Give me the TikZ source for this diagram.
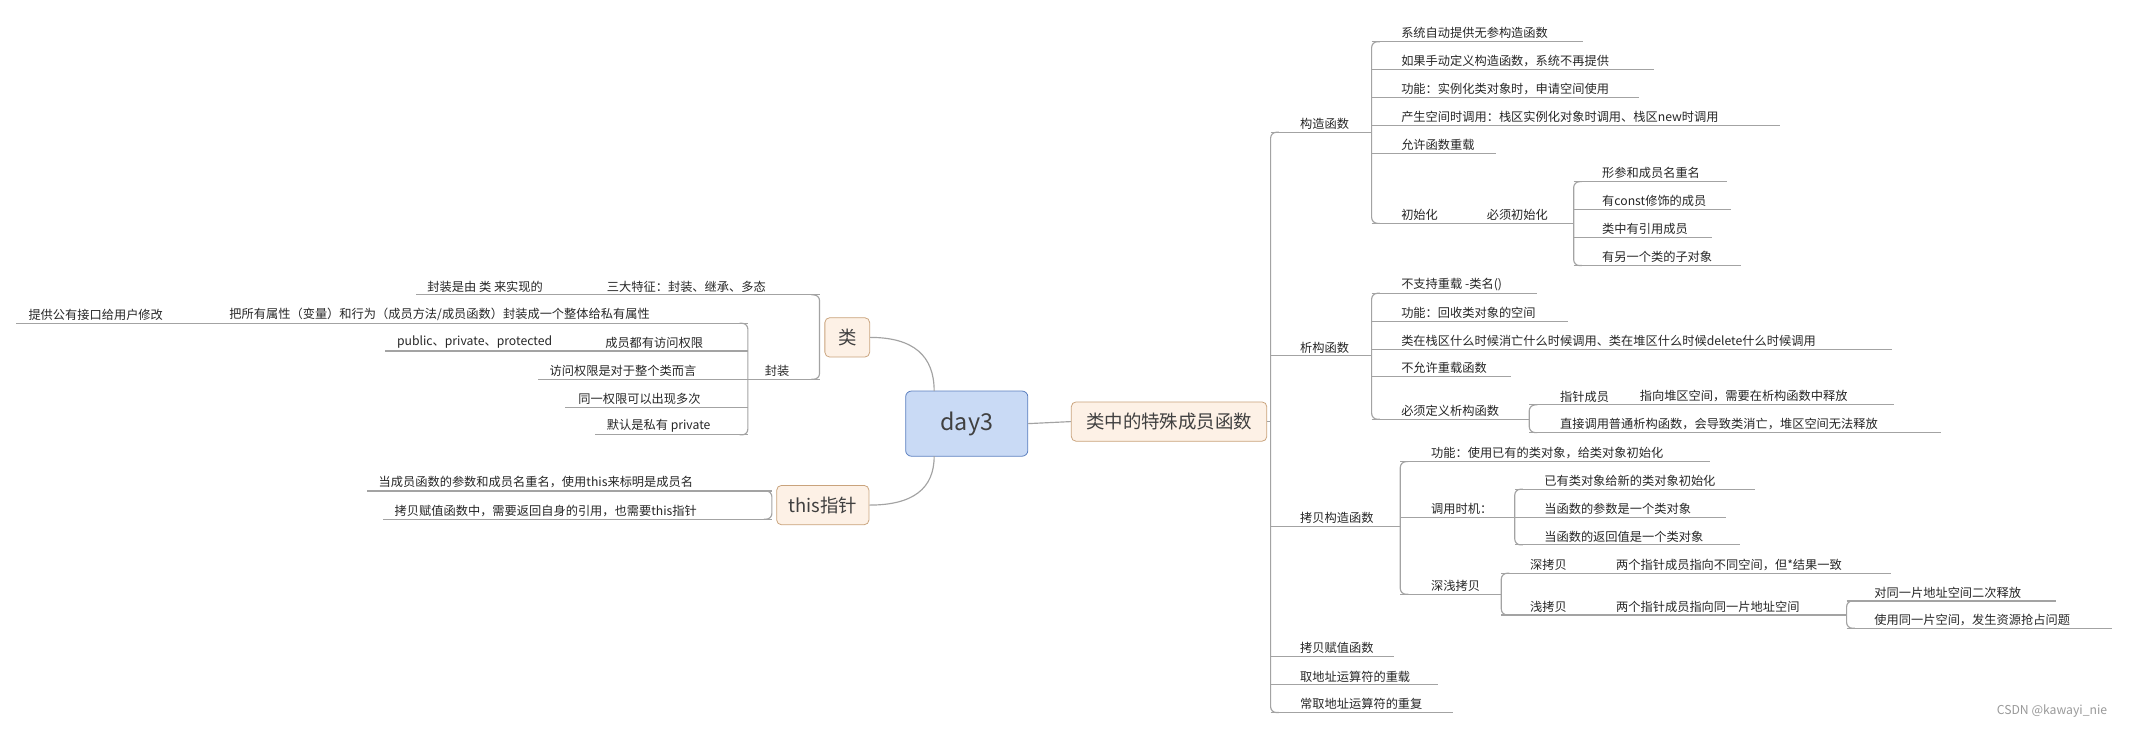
\documentclass[tikz,border=0pt]{standalone}
\usepackage{fontspec}
\setmainfont{Noto Sans CJK SC}
\usetikzlibrary{positioning}
\definecolor{linegray}{HTML}{A3A3A3}
\definecolor{hubfill}{HTML}{C9DAF5}
\definecolor{hubline}{HTML}{5B7FBF}
\definecolor{topfill}{HTML}{FDF1E6}
\definecolor{topline}{HTML}{C9A37C}
\tikzset{
  link/.style={draw=linegray,line width=0.6pt},
  leaf/.style={font=\fontsize{6.3}{7}\selectfont,text=black!85,inner sep=1.2pt,anchor=south west},
  hub/.style={draw=hubline,fill=hubfill,rounded corners=3pt,minimum width=63pt,minimum height=33.6pt,font=\fontsize{12}{14}\selectfont,text=black!75},
  topic/.style={draw=topline,fill=topfill,rounded corners=2.5pt,minimum height=20.3pt,inner xsep=3pt,font=\fontsize{9.5}{11}\selectfont,text=black!75},
}
% #1 name, #2 spine x, #3 line y, #4 text x, #5 line end x, #6 text
\newcommand\twig[6]{%
  \node[leaf] (#1) at (#4,#3) {#6};
  \draw[link] (#2,#3) -- (#5,#3);}
% #1 x, #2 top y, #3 bottom y, #4 side
\newcommand\spine[4]{\draw[link,rounded corners=3pt] (#1+#4,#2) -- (#1,#2) -- (#1,#3) -- (#1+#4,#3);}
\begin{document}
\begin{tikzpicture}[x=0.7pt,y=-0.7pt]
  \useasboundingbox (0,0) rectangle (1568,537);
  % centre
  \node[hub] (day3) at (712,312) {day3};
  \node[topic,minimum width=100.8pt] (special) at (861,310.5) {类中的特殊成员函数};
  \node[topic,minimum width=23.1pt] (cls) at (624,248.5) {类};
  \node[topic,minimum width=47.6pt] (this) at (606,372) {this指针};
  \draw[link] (day3.east) -- (special.west);
  \draw[link] (cls.east) .. controls +(32,0) and (688,262) .. (688,288);
  \draw[link] (this.east) .. controls +(32,0) and (688,360) .. (688,336);
  \draw[link] (special.east) -- (935.8,310.5);
  % right side
  \spine{935.8}{97.4}{524.8}{6}
  \twig{ctor}{935.8}{97.4}{955.6}{1010.2}{构造函数}
  \spine{1010.2}{30.7}{164.5}{6}
  \twig{c1}{1010.2}{30.7}{1030}{1165.6}{系统自动提供无参构造函数}
  \twig{c2}{1010.2}{51}{1030}{1218}{如果手动定义构造函数，系统不再提供}
  \twig{c3}{1010.2}{71.9}{1030}{1207}{功能：实例化类对象时，申请空间使用}
  \twig{c4}{1010.2}{92.5}{1030}{1311}{产生空间时调用：栈区实例化对象时调用、栈区new时调用}
  \twig{c5}{1010.2}{113}{1030}{1102}{允许函数重载}
  \twig{cinit}{1010.2}{164.5}{1030}{1159}{初始化}
  \node[leaf] (cmust) at (1093,164.5) {必须初始化};
  \spine{1159}{133.8}{195.6}{6}
  \twig{m1}{1159}{133.8}{1178}{1272}{形参和成员名重名}
  \twig{m2}{1159}{154.1}{1178}{1275}{有const修饰的成员}
  \twig{m3}{1159}{174.8}{1178}{1261}{类中有引用成员}
  \twig{m4}{1159}{195.6}{1178}{1282}{有另一个类的子对象}
  \twig{dtor}{935.8}{262}{955.6}{1010.2}{析构函数}
  \spine{1010.2}{216}{308.8}{6}
  \twig{d1}{1010.2}{216}{1030}{1132}{不支持重载 -类名(){}}
  \twig{d2}{1010.2}{236.9}{1030}{1155}{功能：回收类对象的空间}
  \twig{d3}{1010.2}{257.2}{1030}{1393.7}{类在栈区什么时候消亡什么时候调用、类在堆区什么时候delete什么时候调用}
  \twig{d4}{1010.2}{277.4}{1030}{1112.7}{不允许重载函数}
  \twig{dmust}{1010.2}{308.8}{1030}{1126.3}{必须定义析构函数}
  \spine{1126.3}{298.2}{318.6}{6}
  \twig{dptr}{1126.3}{298.2}{1147}{1395}{指针成员}
  \node[leaf] (dheap) at (1205.7,298.2) {指向堆区空间，需要在析构函数中释放};
  \twig{dcall}{1126.3}{318.6}{1147}{1429.7}{直接调用普通析构函数，会导致类消亡，堆区空间无法释放}
  \twig{copy}{935.8}{387.8}{955.6}{1031.3}{拷贝构造函数}
  \spine{1031.3}{340}{437.7}{6}
  \twig{k1}{1031.3}{340}{1052}{1259.4}{功能：使用已有的类对象，给类对象初始化}
  \twig{kwhen}{1031.3}{381}{1052}{1115.6}{调用时机：}
  \spine{1115.6}{360.3}{401.3}{6}
  \twig{w1}{1115.6}{360.3}{1135.4}{1292.5}{已有类对象给新的类对象初始化}
  \twig{w2}{1115.6}{381}{1135.4}{1271}{当函数的参数是一个类对象}
  \twig{w3}{1115.6}{401.3}{1135.4}{1281.3}{当函数的返回值是一个类对象}
  \twig{kdeep}{1031.3}{437.7}{1052}{1105.7}{深浅拷贝}
  \spine{1105.7}{422.2}{452.9}{6}
  \twig{deep}{1105.7}{422.2}{1125}{1393}{深拷贝}
  \node[leaf] (deeptxt) at (1188.3,422.2) {两个指针成员指向不同空间，但*结果一致};
  \twig{shallow}{1105.7}{452.9}{1125}{1360}{浅拷贝}
  \node[leaf] (shallowtxt) at (1188.3,452.9) {两个指针成员指向同一片地址空间};
  \spine{1360}{442.6}{462.7}{6}
  \twig{s1}{1360}{442.6}{1378.5}{1514.4}{对同一片地址空间二次释放}
  \twig{s2}{1360}{462.7}{1378.5}{1555.8}{使用同一片空间，发生资源抢占问题}
  \twig{assign}{935.8}{483.6}{955.6}{1027}{拷贝赋值函数}
  \twig{addr}{935.8}{504.4}{955.6}{1059}{取地址运算符的重载}
  \twig{caddr}{935.8}{524.8}{955.6}{1070}{常取地址运算符的重复}
  % left side
  \spine{603.6}{217.2}{279.3}{-6}
  \twig{three}{603.6}{217.2}{445}{306.5}{三大特征：封装、继承、多态}
  \node[leaf] (threeby) at (312.8,217.2) {封装是由 类 来实现的};
  \twig{wrap}{603.6}{279.3}{561.3}{550.8}{封装}
  \spine{550.8}{238.1}{320.3}{-6}
  \twig{e1}{550.8}{238.1}{167}{11.8}{把所有属性（变量）和行为（成员方法/成员函数）封装成一个整体给私有属性}
  \node[leaf] (e1pub) at (19,238.1) {提供公有接口给用户修改};
  \twig{e2}{550.8}{258.5}{443.8}{283.2}{成员都有访问权限}
  \node[leaf] (e2kw) at (290.4,258.5) {public、private、protected};
  \twig{e3}{550.8}{279.3}{402.8}{396}{访问权限是对于整个类而言}
  \twig{e4}{550.8}{300}{424}{416.4}{同一权限可以出现多次}
  \twig{e5}{550.8}{320.3}{445}{438.3}{默认是私有 private}
  \spine{568.5}{361.6}{382.4}{-6}
  \twig{t1}{568.5}{361.6}{276.9}{270.5}{当成员函数的参数和成员名重名，使用this来标明是成员名}
  \twig{t2}{568.5}{382.4}{288.7}{282}{拷贝赋值函数中，需要返回自身的引用，也需要this指针}
  \node[font=\fontsize{6.3}{7}\selectfont,text=black!40,anchor=east] (mark) at (1557,524) {CSDN @kawayi\_nie};
\end{tikzpicture}
\end{document}
